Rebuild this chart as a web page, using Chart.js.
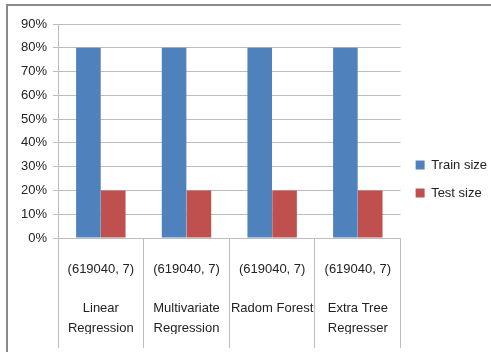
<!DOCTYPE html>
<html>
<head>
<meta charset="utf-8">
<script src="https://cdn.jsdelivr.net/npm/chart.js@4"></script>
<style>
  html, body { margin: 0; padding: 0; background: #fff; overflow: hidden; }
  #frame {
    position: absolute; left: 6px; top: 4px; width: 520px; height: 380px;
    border: 2px solid #8a8a8a; box-sizing: border-box;
  }
  #myChart { position: absolute; left: 0; top: 0; }
</style>
</head>
<body>
<div id="frame"></div>
<canvas id="myChart" width="491" height="352"></canvas>
<script>
// Chart data
const categories = [
    ['(619040, 7)', '', 'Linear', 'Regression'],
    ['(619040, 7)', '', 'Multivariate', 'Regression'],
    ['(619040, 7)', '', 'Radom Forest'],
    ['(619040, 7)', '', 'Extra Tree', 'Regresser']
];
const trainSize = [80, 80, 80, 80];
const testSize = [20, 20, 20, 20];
const yTicks = [0, 10, 20, 30, 40, 50, 60, 70, 80, 90];

const font = { family: '"Liberation Sans", Arial, sans-serif', size: 13 };
const gridColor = '#bdbdbd';

const ctx = document.getElementById('myChart').getContext('2d');
new Chart(ctx, {
    type: 'bar',
    data: {
        labels: categories,
        datasets: [{
            label: 'Train size',
            data: trainSize,
            backgroundColor: '#4F81BD',
            categoryPercentage: 0.58,
            barPercentage: 0.99
        }, {
            label: 'Test size',
            data: testSize,
            backgroundColor: '#C0504D',
            categoryPercentage: 0.58,
            barPercentage: 0.99
        }]
    },
    options: {
        responsive: false,
        animation: false,
        layout: { padding: { left: 10, top: 24, right: -6, bottom: 18 } },
        plugins: {
            legend: {
                position: 'right',
                labels: {
                    boxWidth: 9,
                    boxHeight: 9,
                    padding: 15,
                    color: '#222',
                    font: font
                }
            },
            tooltip: { enabled: false }
        },
        scales: {
            x: {
                afterFit: s => { s.height = 96; },
                grid: {
                    offset: true,
                    drawOnChartArea: false,
                    drawTicks: true,
                    tickLength: 110,
                    color: gridColor
                },
                border: { color: gridColor },
                ticks: {
                    padding: -88,
                    maxRotation: 0,
                    autoSkip: false,
                    color: '#222',
                    font: { ...font, lineHeight: 1.5 }
                }
            },
            y: {
                min: 0,
                max: 90,
                afterFit: s => { s.width = 48; },
                afterBuildTicks: s => { s.ticks = yTicks.map(v => ({ value: v })); },
                grid: { color: gridColor, tickLength: 5 },
                border: { color: gridColor },
                ticks: {
                    padding: 6,
                    color: '#222',
                    font: font,
                    callback: v => v + '%'
                }
            }
        }
    }
});
</script>
</body>
</html>
